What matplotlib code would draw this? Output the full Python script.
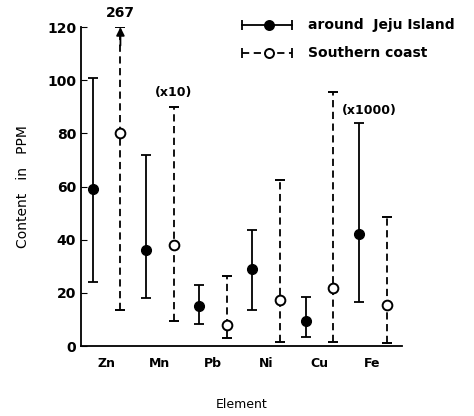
import numpy as np
import matplotlib.pyplot as plt

elements = ['Zn', 'Mn', 'Pb', 'Ni', 'Cu', 'Fe']

# around Jeju Island: mean, min, max
jeju_mean = [59, 36, 15, 29, 9.5, 42]
jeju_low = [24, 18, 8.5, 13.5, 3.5, 16.5]
jeju_high = [101, 72, 23, 43.5, 18.5, 84]

# Southern coast: mean, min, max
south_mean = [80, 38, 8, 17.5, 22, 15.5]
south_low = [13.5, 9.5, 3, 1.5, 1.5, 1]
south_high = [267, 90, 26.5, 62.5, 95.5, 48.5]

YMAX = 120
DASH = (0, (4, 2.5))

plt.rcParams['font.family'] = 'DejaVu Sans'
plt.rcParams['font.weight'] = 'bold'

fig = plt.figure(figsize=(4.74, 4.16), dpi=100)
ax = fig.add_axes([0.171, 0.168, 0.677, 0.767])

x = np.arange(len(elements))
xj = x - 0.25
xs = x + 0.27

jm = np.array(jeju_mean)
sm = np.array(south_mean)
sh = np.minimum(np.array(south_high), YMAX)

ax.errorbar(xj, jm, yerr=[jm - np.array(jeju_low), np.array(jeju_high) - jm],
            fmt='o', color='black', ms=7, mfc='black', mec='black',
            ecolor='black', elinewidth=1.3, capsize=3.5, capthick=1.3)
es = ax.errorbar(xs, sm, yerr=[sm - np.array(south_low), sh - sm],
                 fmt='o', color='black', ms=7, mfc='white', mec='black', mew=1.4,
                 ecolor='black', elinewidth=1.3, capsize=3.5, capthick=1.3)
es[2][0].set_linestyle(DASH)

# Zn southern max goes off scale: arrow instead of cap
ax.annotate('', xy=(xs[0], YMAX + 1), xytext=(xs[0], YMAX - 8),
            arrowprops=dict(arrowstyle='-|>', color='black', lw=1.3,
                            mutation_scale=12), annotation_clip=False)
ax.text(xs[0], YMAX + 2.5, str(south_high[0]), ha='center', va='bottom',
        fontsize=10, fontweight='bold', clip_on=False)

ax.text(xs[1], 93, '(x10)', ha='center', va='bottom', fontsize=9)
ax.text(xj[5] - 0.32, 86, '(x1000)', ha='left', va='bottom', fontsize=9)

ax.set_xlim(-0.47, 5.56)
ax.set_ylim(0, YMAX)
ax.set_yticks(range(0, 121, 20))
ax.set_xticks(x)
ax.set_xticklabels(elements, fontsize=9)
ax.tick_params(axis='y', direction='in', length=4, labelsize=10)
ax.tick_params(axis='x', length=0, pad=8)
ax.spines['top'].set_visible(False)
ax.spines['right'].set_visible(False)
for s in ('left', 'bottom'):
    ax.spines[s].set_linewidth(1.3)

ax.set_ylabel('Content   in   PPM', fontsize=10, labelpad=12)
ax.set_xlabel('Element', fontsize=9, labelpad=20)

# legend drawn as horizontal error bars
legend_rows = [(1.006, '-', 'black', 'around  Jeju Island'),
               (0.918, DASH, 'white', 'Southern coast')]
for ly, ls, fc, txt in legend_rows:
    ax.plot([0.502, 0.657], [ly, ly], ls=ls, color='black', lw=1.3,
            transform=ax.transAxes, clip_on=False)
    ax.plot([0.502, 0.657], [ly, ly], ls='none', marker='|', ms=7, mew=1.3,
            color='black', transform=ax.transAxes, clip_on=False)
    ax.plot([0.585], [ly], ls='none', marker='o', ms=6.5, mfc=fc, mec='black',
            mew=1.4, transform=ax.transAxes, clip_on=False)
    ax.text(0.707, ly, txt, ha='left', va='center', fontsize=10,
            transform=ax.transAxes)

fig.savefig('out.png', dpi=100)
